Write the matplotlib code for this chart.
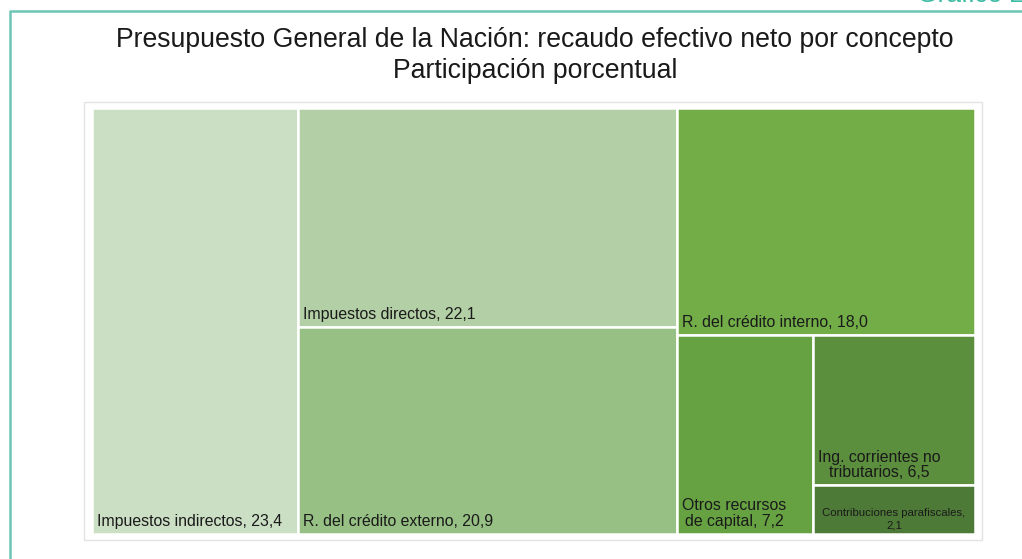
import matplotlib
matplotlib.use('Agg')
from matplotlib import pyplot as plt
from matplotlib.patches import Rectangle

plt.rcParams['font.family'] = ['Liberation Sans', 'DejaVu Sans']

# ------------------------------------------------------------------ data
names = ['Impuestos indirectos', 'Impuestos directos', 'R. del crédito externo',
         'R. del crédito interno', 'Otros recursos de capital',
         'Ing. corrientes no tributarios', 'Contribuciones parafiscales']
labels = ['Impuestos indirectos, 23,4', 'Impuestos directos, 22,1',
          'R. del crédito externo, 20,9', 'R. del crédito interno, 18,0',
          'Otros recursos\nde capital, 7,2', 'Ing. corrientes no\ntributarios, 6,5',
          'Contribuciones parafiscales,\n2,1']
values = [23.4, 22.1, 20.9, 18.0, 7.2, 6.5, 2.1]
colors = ['#cbdfc4', '#b3cfa5', '#97c084', '#72ad47', '#66a142', '#5b8e3d', '#4e7a37']
# nesting of the treemap (indices into values), split direction alternates
groups = [[0], [1, 2], [3, [4, [5, 6]]]]

# ------------------------------------------------------------------ layout
def total(g):
  if isinstance(g, list):
    return sum(total(x) for x in g)
  return values[g]

rects = {}
def layout(g, x, y, w, h, horiz):
  if not isinstance(g, list):
    rects[g] = (x, y, w, h)
    return
  s = total(g)
  pos = 0.0
  for sub in g:
    f = total(sub) / s
    if horiz:
      layout(sub, x + pos * w, y, f * w, h, not horiz)
    else:
      layout(sub, x, y + pos * h, w, f * h, not horiz)
    pos += f

layout(groups, 0, 0, 1, 1, True)

# ------------------------------------------------------------------ figure
W, H = 1022, 559
fig = plt.figure(figsize=(W / 100, H / 100), dpi=100)

# outer frame
frame = fig.add_axes([0, 0, 1, 1])
frame.set_xlim(0, W); frame.set_ylim(H, 0); frame.axis('off')
teal = '#6cc5b5'
frame.plot([10, 10, W], [H, 11, 11], color=teal, lw=1.8, solid_capstyle='butt')
# page header, mostly outside the crop as in the source
frame.text(1024, 2, 'Gráfico 2', color='#3dbba5', fontsize=19, ha='right', va='baseline')
frame.add_patch(Rectangle((84, 102), 898, 438, fill=False, ec='#e3e3e3', lw=1))

fig.text(535 / W, 1 - 40 / H, 'Presupuesto General de la Nación: recaudo efectivo neto por concepto',
         ha='center', va='center', fontsize=19.2, color='#1a1a1a')
fig.text(535 / W, 1 - 71 / H, 'Participación porcentual',
         ha='center', va='center', fontsize=19.2, color='#1a1a1a')

ax = fig.add_axes([92 / W, 1 - 534 / H, 883 / W, 426 / H])
ax.set_xlim(0, 1); ax.set_ylim(1, 0); ax.axis('off')

for i, (x, y, w, h) in rects.items():
  ax.add_patch(Rectangle((x, y), w, h, fc=colors[i], ec='white', lw=1.8))

for i in range(len(values)):
  x, y, w, h = rects[i]
  if i == 6:
    ax.annotate(labels[i], (x + w / 2, y + h), xytext=(0, 4), textcoords='offset pixels',
                ha='center', va='bottom', fontsize=8.2, multialignment='center', color='#1a1a1a')
  else:
    ax.annotate(labels[i], (x, y + h), xytext=(5, 5), textcoords='offset pixels',
                ha='left', va='bottom', fontsize=11.4, multialignment='center',
                color='#1a1a1a', linespacing=1.05)

fig.savefig('out.png', dpi=100)
